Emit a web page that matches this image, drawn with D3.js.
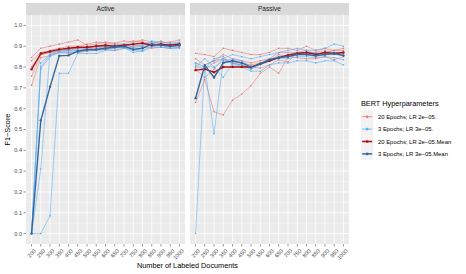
<!DOCTYPE html>
<html>
<head>
<meta charset="utf-8">
<script src="https://cdn.jsdelivr.net/npm/d3@7"></script>
<style>
  body { margin: 0; background: #fff; }
  svg { display: block; font-family: "Liberation Sans", Arial, sans-serif; }
</style>
</head>
<body>
<div id="chart"></div>
<script>
// x categories (number of labeled documents)
const docCounts = [200, 250, 300, 350, 400, 450, 500, 550, 600, 650, 700, 750, 800, 850, 900, 950, 1000];
const panels = ["Active", "Passive"];
const yTicks = [0, 0.1, 0.2, 0.3, 0.4, 0.5, 0.6, 0.7, 0.8, 0.9, 1.0];
const seriesNames = ["20 Epochs; LR 2e\u221205.", "3 Epochs; LR 3e\u221205.", "20 Epochs; LR 2e\u221205.Mean", "3 Epochs; LR 3e\u221205.Mean"];

// individual runs, one row per run
const activeRed = [
  [0.846, 0.89, 0.90, 0.91, 0.92, 0.93, 0.905, 0.91, 0.92, 0.915, 0.925, 0.92, 0.93, 0.92, 0.915, 0.92, 0.93],
  [0.830, 0.87, 0.88, 0.89, 0.90, 0.90, 0.91, 0.92, 0.915, 0.91, 0.91, 0.925, 0.92, 0.91, 0.925, 0.91, 0.915],
  [0.801, 0.86, 0.87, 0.88, 0.885, 0.89, 0.895, 0.90, 0.905, 0.90, 0.905, 0.91, 0.915, 0.905, 0.91, 0.905, 0.91],
  [0.756, 0.86, 0.87, 0.875, 0.88, 0.885, 0.89, 0.89, 0.90, 0.895, 0.895, 0.90, 0.91, 0.90, 0.905, 0.90, 0.90],
  [0.712, 0.845, 0.855, 0.87, 0.865, 0.87, 0.875, 0.88, 0.885, 0.88, 0.89, 0.895, 0.90, 0.89, 0.895, 0.89, 0.895]
];
const activeBlue = [
  [0, 0.79, 0.85, 0.87, 0.87, 0.87, 0.88, 0.885, 0.89, 0.895, 0.90, 0.88, 0.89, 0.91, 0.905, 0.90, 0.905],
  [0, 0.80, 0.86, 0.88, 0.88, 0.875, 0.89, 0.89, 0.895, 0.91, 0.91, 0.895, 0.90, 0.925, 0.92, 0.915, 0.92],
  [0, 0.82, 0.86, 0.87, 0.875, 0.88, 0.885, 0.88, 0.885, 0.89, 0.895, 0.87, 0.88, 0.90, 0.895, 0.89, 0.89],
  [0, 0.31, 0.87, 0.88, 0.885, 0.89, 0.895, 0.90, 0.90, 0.90, 0.905, 0.90, 0.905, 0.92, 0.91, 0.905, 0.915],
  [0, 0.0, 0.085, 0.77, 0.77, 0.865, 0.865, 0.865, 0.88, 0.88, 0.89, 0.88, 0.875, 0.895, 0.895, 0.89, 0.895]
];
const passiveRed = [
  [0.866, 0.86, 0.85, 0.89, 0.88, 0.87, 0.86, 0.86, 0.87, 0.89, 0.89, 0.88, 0.90, 0.88, 0.89, 0.88, 0.89],
  [0.84, 0.81, 0.83, 0.86, 0.84, 0.83, 0.82, 0.83, 0.84, 0.87, 0.87, 0.87, 0.87, 0.87, 0.88, 0.87, 0.87],
  [0.80, 0.79, 0.82, 0.84, 0.82, 0.82, 0.81, 0.82, 0.83, 0.86, 0.85, 0.86, 0.86, 0.85, 0.86, 0.86, 0.86],
  [0.79, 0.75, 0.79, 0.84, 0.82, 0.81, 0.80, 0.795, 0.81, 0.835, 0.825, 0.87, 0.88, 0.86, 0.87, 0.88, 0.88],
  [0.63, 0.74, 0.585, 0.57, 0.64, 0.67, 0.71, 0.77, 0.80, 0.77, 0.85, 0.845, 0.84, 0.84, 0.85, 0.835, 0.85]
];
const passiveBlue = [
  [0.0, 0.81, 0.83, 0.84, 0.86, 0.85, 0.84, 0.85, 0.86, 0.87, 0.88, 0.89, 0.88, 0.88, 0.89, 0.91, 0.90],
  [0.82, 0.80, 0.48, 0.83, 0.84, 0.83, 0.80, 0.82, 0.84, 0.85, 0.86, 0.87, 0.87, 0.86, 0.87, 0.87, 0.86],
  [0.80, 0.84, 0.80, 0.75, 0.82, 0.80, 0.78, 0.78, 0.81, 0.82, 0.82, 0.83, 0.83, 0.82, 0.83, 0.83, 0.81],
  [0.81, 0.79, 0.84, 0.85, 0.81, 0.81, 0.79, 0.81, 0.83, 0.84, 0.85, 0.86, 0.87, 0.87, 0.86, 0.87, 0.87],
  [0.82, 0.80, 0.80, 0.83, 0.82, 0.81, 0.79, 0.815, 0.835, 0.845, 0.84, 0.85, 0.85, 0.845, 0.85, 0.845, 0.835]
];

const margin = { left: 26, top: 3 };
const panelW = 159, panelGap = 5, stripH = 12, panelH = 229;
const colors = ["#e37474", "#56acf0", "#a50f15", "#33679a"];

const svg = d3.select("#chart").append("svg").attr("width", 466).attr("height", 274);

const x = d3.scalePoint().domain(docCounts).range([0, panelW]).padding(0.6);
const y = d3.scaleLinear().domain([-0.05, 1.05]).range([panelH, 0]);

function mean(runs) {
  return docCounts.map((_, i) => d3.mean(runs, r => r[i]));
}

const panelData = {
  Active: { red: activeRed, blue: activeBlue },
  Passive: { red: passiveRed, blue: passiveBlue }
};

const line = d3.line().x((d, i) => x(docCounts[i])).y(d => y(d));

panels.forEach((name, pi) => {
  const px = margin.left + pi * (panelW + panelGap);
  const g = svg.append("g").attr("transform", `translate(${px},${margin.top})`);

  // strip
  g.append("rect").attr("width", panelW).attr("height", stripH).attr("fill", "#d9d9d9");
  g.append("text").attr("x", panelW / 2).attr("y", stripH / 2 + 2.3)
    .attr("text-anchor", "middle").attr("font-size", 6.6).attr("fill", "#1a1a1a").text(name);

  const p = g.append("g").attr("transform", `translate(0,${stripH})`);
  p.append("rect").attr("width", panelW).attr("height", panelH).attr("fill", "#ebebeb");

  // minor y grid
  for (let k = 0; k < 10; k++) {
    const v = k / 10 + 0.05;
    p.append("line").attr("x1", 0).attr("x2", panelW).attr("y1", y(v)).attr("y2", y(v))
      .attr("stroke", "#fff").attr("stroke-width", 0.4);
  }
  yTicks.forEach(v => {
    p.append("line").attr("x1", 0).attr("x2", panelW).attr("y1", y(v)).attr("y2", y(v))
      .attr("stroke", "#fff").attr("stroke-width", 0.8);
  });
  docCounts.forEach(c => {
    p.append("line").attr("x1", x(c)).attr("x2", x(c)).attr("y1", 0).attr("y2", panelH)
      .attr("stroke", "#fff").attr("stroke-width", 0.8);
  });

  const d = panelData[name];
  const groups = [
    { runs: d.red, color: colors[0], w: 0.55, r: 0.8 },
    { runs: d.blue, color: colors[1], w: 0.55, r: 0.8 },
    { runs: [mean(d.red)], color: colors[2], w: 1.4, r: 1.2 },
    { runs: [mean(d.blue)], color: colors[3], w: 1.4, r: 1.2 }
  ];
  groups.forEach(gr => {
    gr.runs.forEach(run => {
      p.append("path").datum(run).attr("d", line).attr("fill", "none")
        .attr("stroke", gr.color).attr("stroke-width", gr.w);
      p.selectAll(null).data(run).enter().append("circle")
        .attr("cx", (v, i) => x(docCounts[i])).attr("cy", v => y(v))
        .attr("r", gr.r).attr("fill", gr.color);
    });
  });

  // x axis
  const xa = p.append("g").attr("transform", `translate(0,${panelH})`);
  docCounts.forEach(c => {
    xa.append("line").attr("x1", x(c)).attr("x2", x(c)).attr("y1", 0).attr("y2", 2.5)
      .attr("stroke", "#333").attr("stroke-width", 0.5);
    xa.append("text").attr("transform", `translate(${x(c) + 2},${4.5}) rotate(-45)`)
      .attr("text-anchor", "end").attr("dy", "0.7em").attr("font-size", 5.6).attr("fill", "#4d4d4d").text(c);
  });

  // y axis on the first panel
  if (pi === 0) {
    yTicks.forEach(v => {
      p.append("line").attr("x1", -2.5).attr("x2", 0).attr("y1", y(v)).attr("y2", y(v))
        .attr("stroke", "#333").attr("stroke-width", 0.5);
      p.append("text").attr("x", -4).attr("y", y(v)).attr("dy", "0.35em")
        .attr("text-anchor", "end").attr("font-size", 5.6).attr("fill", "#4d4d4d").text(v.toFixed(1));
    });
  }
});

// axis titles
const plotRight = margin.left + 2 * panelW + panelGap;
svg.append("text").attr("x", (margin.left + plotRight) / 2).attr("y", 268)
  .attr("text-anchor", "middle").attr("font-size", 7.3).attr("fill", "#000").text("Number of Labeled Documents");
svg.append("text").attr("transform", `translate(9.5,${margin.top + stripH + panelH / 2}) rotate(-90)`)
  .attr("text-anchor", "middle").attr("font-size", 7.3).attr("fill", "#000").text("F1\u2212Score");

// legend
const lg = svg.append("g").attr("transform", "translate(361,105.5)");
lg.append("text").attr("x", 0).attr("y", 0).attr("font-size", 7.3).attr("fill", "#000").text("BERT Hyperparameters");
seriesNames.forEach((s, i) => {
  const ky = 5 + i * 12.4;
  lg.append("rect").attr("x", 0).attr("y", ky).attr("width", 12.4).attr("height", 12.4).attr("fill", "#f2f2f2");
  lg.append("line").attr("x1", 1.2).attr("x2", 11.2).attr("y1", ky + 6.2).attr("y2", ky + 6.2)
    .attr("stroke", colors[i]).attr("stroke-width", i < 2 ? 0.8 : 1.5);
  lg.append("circle").attr("cx", 6.2).attr("cy", ky + 6.2).attr("r", 1.3).attr("fill", colors[i]);
  lg.append("text").attr("x", 17).attr("y", ky + 6.2).attr("dy", "0.35em")
    .attr("font-size", 5.9).attr("fill", "#000").text(s);
});
</script>
</body>
</html>
